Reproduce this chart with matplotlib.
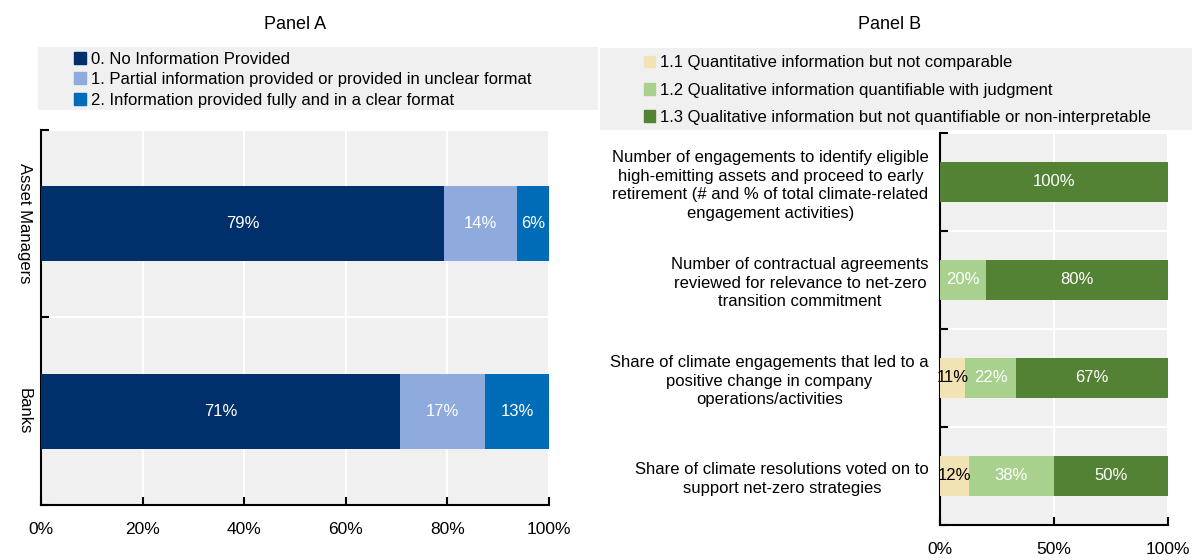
import matplotlib
matplotlib.use("Agg")
import matplotlib.pyplot as plt
from matplotlib.patches import Rectangle, Patch
import numpy as np

plt.rcParams['font.family'] = ['Liberation Sans', 'DejaVu Sans']

# Panel A: disclosure quality by institution type (%)
a_groups = ['Asset Managers', 'Banks']
a_series = ['0. No Information Provided',
            '1. Partial information provided or provided in unclear format',
            '2. Information provided fully and in a clear format']
a_none = [79.4, 70.7]
a_partial = [14.3, 16.7]
a_full = [6.3, 12.6]
a_colors = ['#00306B', '#8FAADC', '#006BB6']

# Panel B: breakdown of partial information by metric (%)
b_metrics = [
    'Number of engagements to identify eligible\nhigh-emitting assets and proceed to early\n'
    'retirement (# and % of total climate-related\nengagement activities)',
    'Number of contractual agreements\nreviewed for relevance to net-zero\ntransition commitment',
    'Share of climate engagements that led to a\npositive change in company\noperations/activities',
    'Share of climate resolutions voted on to\nsupport net-zero strategies',
]
b_series = ['1.1 Quantitative information but not comparable',
            '1.2 Qualitative information quantifiable with judgment',
            '1.3 Qualitative information but not quantifiable or non-interpretable']
b_quant = [0, 0, 11.1, 12.5]
b_qual = [0, 20, 22.2, 37.5]
b_nonq = [100, 80, 66.7, 50]
b_colors = ['#F2E3B4', '#A9D18E', '#548235']
b_text = ['black', 'white', 'white']

fig = plt.figure(figsize=(11.92, 5.6), dpi=100)
FS = 12
BG = '#F0F0F0'


def stacked(ax, labels, series, colors, txtcols, height=0.4):
    y = np.arange(len(labels))
    left = np.zeros(len(labels))
    for vals, col, tc in zip(series, colors, txtcols):
        vals = np.array(vals, dtype=float)
        ax.barh(y, vals, left=left, height=height, color=col, zorder=3)
        for yi, l, v in zip(y, left, vals):
            if v > 0:
                ax.text(l + v / 2, yi, f'{v:.0f}%', ha='center', va='center',
                        color=tc, fontsize=FS, zorder=4)
        left += vals
    ax.set_xlim(0, 100)
    ax.set_ylim(len(labels) - 0.5, -0.5)
    ax.set_facecolor(BG)
    ax.set_yticks(y)
    ax.set_yticks(np.arange(len(labels) + 1) - 0.5, minor=True)
    ax.tick_params(axis='y', which='major', length=0, labelsize=FS)
    ax.tick_params(axis='y', which='minor', direction='in', length=6, width=1.5)
    ax.tick_params(axis='x', direction='in', length=6, width=1.5, labelsize=FS + 0.5, pad=12)
    ax.grid(axis='x', which='major', color='white', linewidth=1.5, zorder=1)
    ax.grid(axis='y', which='minor', color='white', linewidth=1.5, zorder=1)
    for s in ['top', 'right']:
        ax.spines[s].set_visible(False)
    for s in ['left', 'bottom']:
        ax.spines[s].set_linewidth(1.5)
    return ax


# Panel A
axA = fig.add_axes([0.0344, 0.0982, 0.4262, 0.6697])
stacked(axA, a_groups, [a_none, a_partial, a_full], a_colors, ['white'] * 3)
axA.set_xticks(np.arange(0, 101, 20))
axA.set_xticklabels([f'{t}%' for t in range(0, 101, 20)])
axA.set_yticklabels(a_groups, rotation=270, va='center', ha='center')
axA.tick_params(axis='y', which='major', pad=12)

# Panel B
axB = fig.add_axes([0.7886, 0.0625, 0.1913, 0.7])
stacked(axB, b_metrics, [b_quant, b_qual, b_nonq], b_colors, b_text)
axB.set_xticks([0, 50, 100])
axB.set_xticklabels(['0%', '50%', '100%'])
axB.set_yticklabels(b_metrics, multialignment='center', linespacing=1.3)
axB.tick_params(axis='y', which='major', pad=8)

# titles
fig.text(0.2475, 0.957, 'Panel A', ha='center', va='center', fontsize=FS + 1)
fig.text(0.7466, 0.957, 'Panel B', ha='center', va='center', fontsize=FS + 1)

# legend backgrounds
fig.add_artist(Rectangle((0.0319, 0.8036), 0.4698, 0.1125, transform=fig.transFigure,
                         facecolor=BG, edgecolor='none', zorder=0))
fig.add_artist(Rectangle((0.5034, 0.7679), 0.4966, 0.1464, transform=fig.transFigure,
                         facecolor=BG, edgecolor='none', zorder=0))

hA = [Patch(color=c) for c in a_colors]
fig.legend(hA, a_series, loc='upper left', bbox_to_anchor=(0.062, 0.908), frameon=False,
           fontsize=FS, handlelength=0.7, handleheight=0.7, handletextpad=0.3,
           labelspacing=0.33, borderaxespad=0, borderpad=0)
hB = [Patch(color=c) for c in b_colors]
fig.legend(hB, b_series, loc='upper left', bbox_to_anchor=(0.54, 0.901), frameon=False,
           fontsize=FS, handlelength=0.7, handleheight=0.7, handletextpad=0.3,
           labelspacing=0.74, borderaxespad=0, borderpad=0)

fig.savefig('out.png', dpi=100)
